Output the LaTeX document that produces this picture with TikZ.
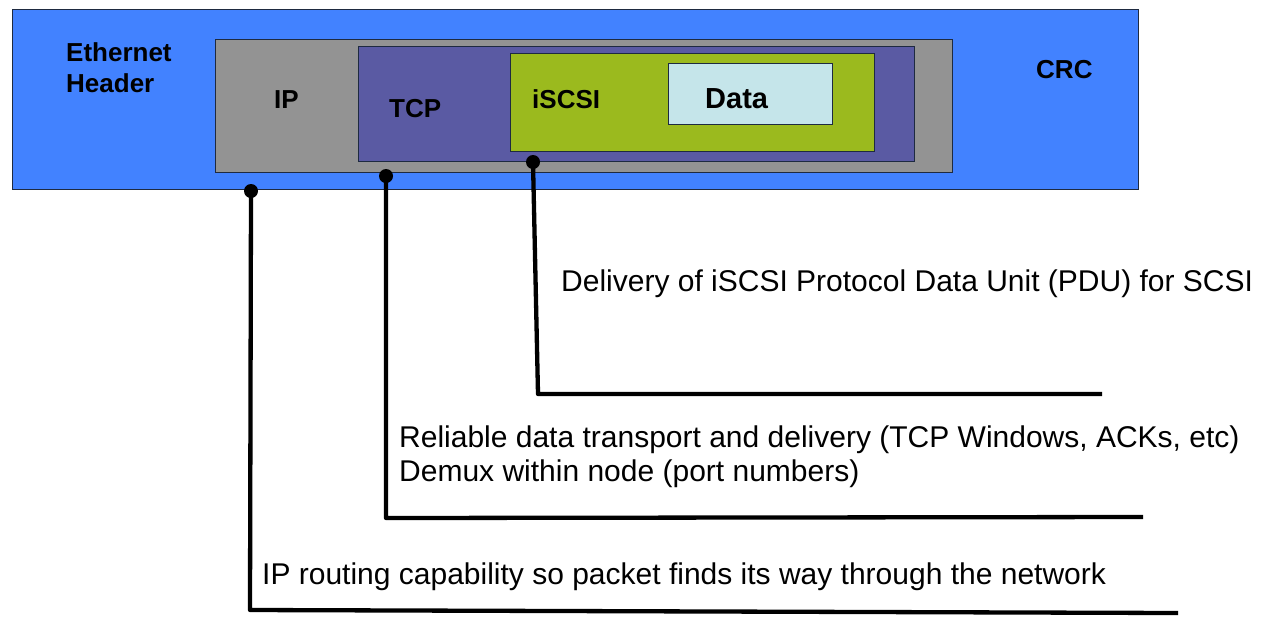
\documentclass[tikz,border=0pt]{standalone}
\usepackage{fontspec}
\setmainfont{Liberation Sans}
\definecolor{ethblue}{HTML}{4282FF}
\definecolor{ipgray}{HTML}{939393}
\definecolor{tcpblue}{HTML}{5A5AA3}
\definecolor{iscsigreen}{HTML}{9BBA1E}
\definecolor{datacyan}{HTML}{C5E5EA}
\definecolor{edge}{HTML}{1E2A40}
\begin{document}
\begin{tikzpicture}[x=1pt,y=-1pt,
  layer/.style={draw=edge, line width=1.2pt, inner sep=0pt, anchor=north west},
  boldlbl/.style={font=\fontsize{26}{30}\selectfont\bfseries, anchor=base west, inner sep=0pt},
  desc/.style={font=\fontsize{30}{35}\selectfont, anchor=base west, inner sep=0pt},
  lead/.style={line width=4.3pt, line join=round},
  dot/.style={circle, fill=black, inner sep=0pt, minimum size=14pt}]
\useasboundingbox (0,0) rectangle (1272,622);
% layers
\node[layer, fill=ethblue, minimum width=1126pt, minimum height=180pt] (eth) at (12,9) {};
\node[layer, fill=ipgray, minimum width=737pt, minimum height=133pt] (ip) at (215,39) {};
\node[layer, fill=tcpblue, minimum width=556pt, minimum height=115pt] (tcp) at (358,46) {};
\node[layer, fill=iscsigreen, minimum width=364pt, minimum height=98pt] (iscsi) at (510,53) {};
\node[layer, fill=datacyan, minimum width=164pt, minimum height=61pt] (data) at (668,63) {};
% labels
\node[boldlbl] (ethl) at (66,61) {Ethernet};
\node[boldlbl] (hdrl) at (66,92) {Header};
\node[boldlbl] (ipl) at (274,108) {IP};
\node[boldlbl] (tcpl) at (389,117) {TCP};
\node[boldlbl] (iscsil) at (532,108) {iSCSI};
\node[boldlbl, font=\fontsize{29}{34}\selectfont\bfseries] (datal) at (705,108) {Data};
\node[boldlbl] (crcl) at (1036,78) {CRC};
% descriptions
\node[desc] (d3) at (561,291) {Delivery of iSCSI Protocol Data Unit (PDU) for SCSI};
\node[desc] (d2a) at (399,447) {Reliable data transport and delivery (TCP Windows, ACKs, etc)};
\node[desc] (d2b) at (399,481) {Demux within node (port numbers)};
\node[desc] (d1) at (262,584) {IP routing capability so packet finds its way through the network};
% leader points
\node[dot] (p3) at (533,162) {};
\node[dot] (p2) at (386,176) {};
\node[dot] (p1) at (251,191) {};
\coordinate (c3) at (538,394);
\coordinate (e3) at (1102,394);
\coordinate (c2) at (386,518);
\coordinate (e2) at (1143,517);
\coordinate (c1) at (250,610);
\coordinate (e1) at (1178,613);
% leaders
\draw[lead] (p3.center) -- (c3) -- (e3);
\draw[lead] (p2.center) -- (c2) -- (e2);
\draw[lead] (p1.center) -- (c1) -- (e1);
\end{tikzpicture}
\end{document}
